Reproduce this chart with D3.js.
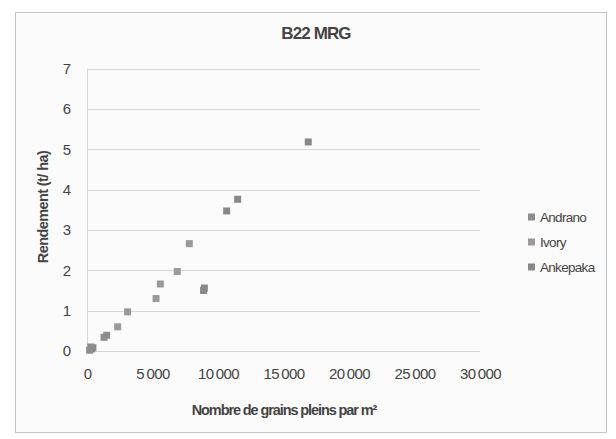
<!DOCTYPE html>
<html><head><meta charset="utf-8">
<script src="https://cdn.jsdelivr.net/npm/d3@7"></script>
<style>body{margin:0;background:#fff}</style>
</head><body><svg id="c" width="616" height="439"></svg>
<script>
const title = "B22 MRG";
const xTitle = "Nombre de grains pleins par m²";
const yTitle = "Rendement (t/ ha)";
const seriesNames = ["Andrano", "Ivory", "Ankepaka"];
const seriesColors = ["#8c8c8c", "#9a9a9a", "#888888"];
const xTicks = [0, 5000, 10000, 15000, 20000, 25000, 30000];
const yTicks = [0, 1, 2, 3, 4, 5, 6, 7];
const andranoX = [200, 350, 450, 300, 1300, 1500];
const andranoY = [0.02, 0.05, 0.08, 0.1, 0.34, 0.39];
const ivoryX = [2340, 3100, 5270, 5600, 6890, 7810];
const ivoryY = [0.6, 0.97, 1.3, 1.66, 1.97, 2.66];
const ankepakaX = [8900, 8960, 10660, 11500, 16890];
const ankepakaY = [1.5, 1.56, 3.47, 3.76, 5.18];
const seriesX = [andranoX, ivoryX, ankepakaX];
const seriesY = [andranoY, ivoryY, ankepakaY];

const FONT = "Liberation Sans, Arial";
const svg = d3.select("#c");
svg.append("rect").attr("x",15.5).attr("y",12.5).attr("width",591).attr("height",420)
  .attr("fill","#fbfbfb").attr("stroke","#c4c4c4");

const x = d3.scaleLinear().domain([0,30000]).range([87,480]);
const y = d3.scaleLinear().domain([0,7]).range([351,68.5]);

svg.append("text").attr("x",316).attr("y",39).attr("text-anchor","middle")
  .attr("font-family",FONT).attr("font-weight","bold").attr("font-size",17)
  .attr("letter-spacing","-0.9").attr("fill","#444").text(title);

// grid
svg.append("g").selectAll("line").data(yTicks).join("line")
  .attr("x1",x(0)).attr("x2",x(30000)).attr("y1",d=>Math.round(y(d))+0.5).attr("y2",d=>Math.round(y(d))+0.5)
  .attr("stroke","#d6d6d6");
svg.append("line").attr("x1",87.5).attr("x2",87.5).attr("y1",y(7)).attr("y2",y(0)).attr("stroke","#d6d6d6");

const yAxis = d3.axisLeft(y).tickValues(yTicks).tickSize(0).tickPadding(16).tickFormat(d3.format("d"));
const gy = svg.append("g").attr("transform","translate(87,0)").call(yAxis);
gy.select(".domain").remove();
gy.selectAll("text").attr("font-family",FONT).attr("font-size",15).attr("fill","#444");

const xAxis = d3.axisBottom(x).tickValues(xTicks).tickSize(0).tickPadding(17)
  .tickFormat(d=>d3.format(",")(d).replace(",", "\u2009"));
const gx = svg.append("g").attr("transform","translate(0,351)").call(xAxis);
gx.select(".domain").remove();
gx.selectAll("text").attr("font-family",FONT).attr("font-size",15)
  .attr("letter-spacing","-0.6").attr("fill","#444");

svg.append("text").attr("x",284).attr("y",415).attr("text-anchor","middle")
  .attr("font-family",FONT).attr("font-weight","bold").attr("font-size",14.5)
  .attr("letter-spacing","-1.1").attr("fill","#444").text(xTitle);
svg.append("text").attr("transform","translate(48,207) rotate(-90)").attr("text-anchor","middle")
  .attr("font-family",FONT).attr("font-weight","bold").attr("font-size",14.5)
  .attr("letter-spacing","-0.6").attr("fill","#444").text(yTitle);

// points
seriesNames.forEach((n,i)=>{
  const pts = seriesX[i].map((v,j)=>[v, seriesY[i][j]]);
  svg.append("g").selectAll("rect").data(pts).join("rect")
    .attr("x",d=>x(d[0])-3.5).attr("y",d=>y(d[1])-3.5).attr("width",7).attr("height",7)
    .attr("fill",seriesColors[i]);
});

// legend
const lg = svg.append("g");
seriesNames.forEach((n,i)=>{
  const yy = 217 + i*25;
  lg.append("rect").attr("x",528).attr("y",yy-3.5).attr("width",7).attr("height",7).attr("fill",seriesColors[i]);
  lg.append("text").attr("x",540).attr("y",yy+5).attr("font-family",FONT)
    .attr("font-size",13.5).attr("letter-spacing","-0.7").attr("fill","#444").text(n);
});
</script></body></html>
